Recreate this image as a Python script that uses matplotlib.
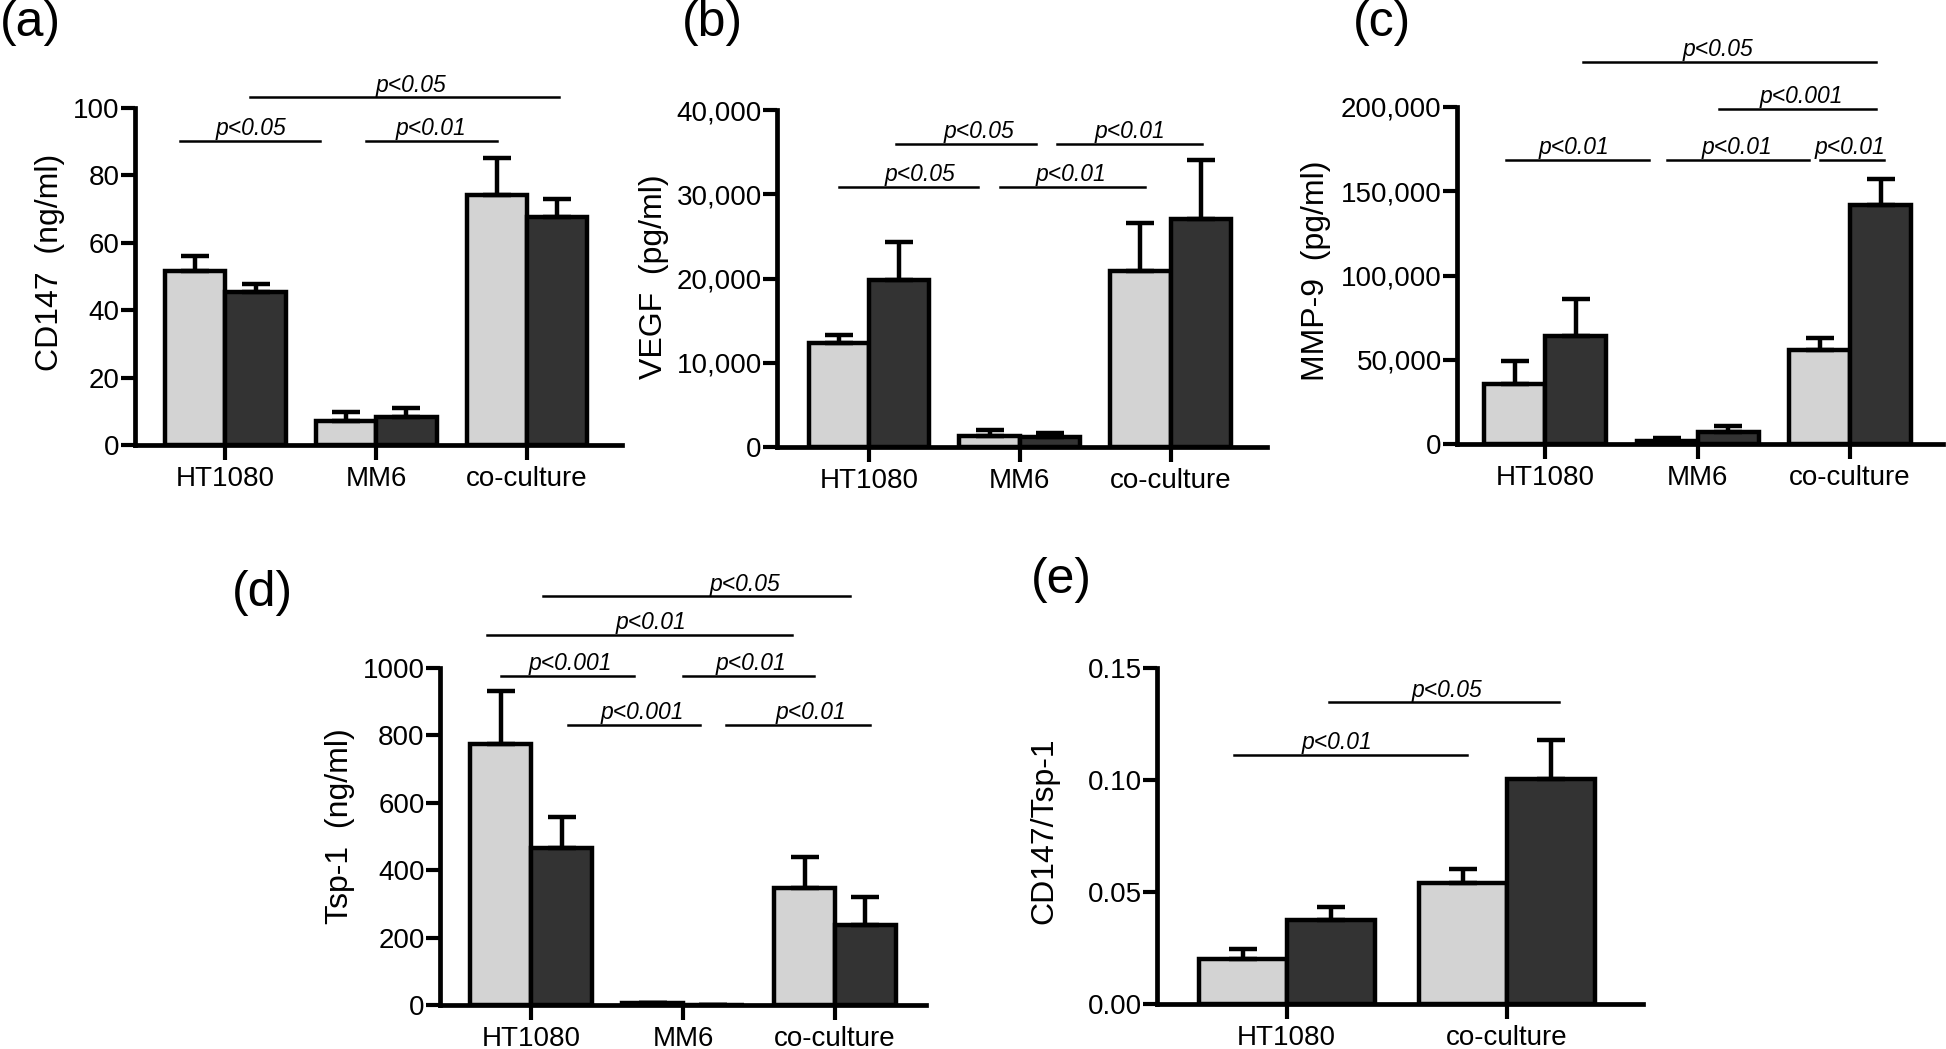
import matplotlib
matplotlib.use('Agg')
import matplotlib.pyplot as plt
from matplotlib.ticker import FuncFormatter
import numpy as np

plt.rcParams['font.family'] = ['Liberation Sans', 'DejaVu Sans']

# (a) CD147
a_groups = ['HT1080', 'MM6', 'co-culture']
a_light = [51.5, 7.2, 74.1]
a_light_err = [4.6, 2.5, 11.0]
a_dark = [45.3, 8.4, 67.8]
a_dark_err = [2.4, 2.5, 5.2]
a_yticks = [0, 20, 40, 60, 80, 100]
# (x0, x1, y, text x, label)
a_sig = [(-0.30, 0.63, 90.3, 0.17, 'p<0.05'),
         (0.93, 1.80, 90.3, 1.36, 'p<0.01'),
         (0.165, 2.21, 103.2, 1.23, 'p<0.05')]

# (b) VEGF
b_groups = ['HT1080', 'MM6', 'co-culture']
b_light = [12300, 1270, 20900]
b_light_err = [1050, 710, 5700]
b_dark = [19800, 1190, 27100]
b_dark_err = [4500, 470, 7000]
b_yticks = [0, 10000, 20000, 30000, 40000]
b_sig = [(-0.20, 0.72, 30900, 0.34, 'p<0.05'),
         (0.87, 1.83, 30900, 1.34, 'p<0.01'),
         (0.18, 1.11, 35960, 0.73, 'p<0.05'),
         (1.25, 2.21, 35960, 1.73, 'p<0.01')]

# (c) MMP-9
c_groups = ['HT1080', 'MM6', 'co-culture']
c_light = [35800, 1600, 56000]
c_light_err = [13700, 1800, 6700]
c_dark = [64300, 7300, 142000]
c_dark_err = [21900, 3600, 15500]
c_yticks = [0, 50000, 100000, 150000, 200000]
c_sig = [(-0.26, 0.68, 168700, 0.19, 'p<0.01'),
         (0.80, 1.73, 168700, 1.26, 'p<0.01'),
         (1.80, 2.22, 168700, 2.00, 'p<0.01'),
         (1.14, 2.17, 199000, 1.68, 'p<0.001'),
         (0.25, 2.17, 227000, 1.13, 'p<0.05')]

# (d) Tsp-1
d_groups = ['HT1080', 'MM6', 'co-culture']
d_light = [775, 5, 347]
d_light_err = [156, 2, 92]
d_dark = [465, 0, 238]
d_dark_err = [94, 0, 81]
d_yticks = [0, 200, 400, 600, 800, 1000]
d_sig = [(-0.20, 0.68, 977, 0.26, 'p<0.001'),
         (1.00, 1.86, 977, 1.45, 'p<0.01'),
         (0.24, 1.11, 832, 0.73, 'p<0.001'),
         (1.28, 2.23, 832, 1.84, 'p<0.01'),
         (-0.29, 1.72, 1099, 0.79, 'p<0.01'),
         (0.08, 2.10, 1213, 1.41, 'p<0.05')]

# (e) CD147/Tsp-1
e_groups = ['HT1080', 'co-culture']
e_light = [0.0201, 0.054]
e_light_err = [0.0045, 0.0063]
e_dark = [0.0376, 0.1004]
e_dark_err = [0.0056, 0.0176]
e_yticks = [0, 0.05, 0.10, 0.15]
e_sig = [(-0.24, 0.82, 0.1113, 0.23, 'p<0.01'),
         (0.19, 1.24, 0.1347, 0.73, 'p<0.05')]

LIGHT = '#d3d3d3'
DARK = '#333333'
LW = 3.2

W, H = 1946, 1049
fig = plt.figure(figsize=(W / 100, H / 100), dpi=100)


def px_axes(left, right, top, bottom):
    return fig.add_axes([left / W, 1 - bottom / H, (right - left) / W, (bottom - top) / H])


def draw_panel(ax, groups, light, light_err, dark, dark_err, yticks, fmt, xlim, sig):
    x = np.arange(len(groups))
    n = len(groups)
    ax.bar(x - 0.2, light, 0.4, color=LIGHT, edgecolor='black', linewidth=LW, zorder=2)
    ax.bar(x + 0.2, dark, 0.4, color=DARK, edgecolor='black', linewidth=LW, zorder=2)
    ax.errorbar(x - 0.2, light, yerr=[np.zeros(n), light_err], fmt='none', ecolor='black',
                elinewidth=LW, capsize=10, capthick=LW, zorder=3)
    ax.errorbar(x + 0.2, dark, yerr=[np.zeros(n), dark_err], fmt='none', ecolor='black',
                elinewidth=LW, capsize=10, capthick=LW, zorder=3)
    ax.set_xlim(*xlim)
    ax.set_ylim(yticks[0], yticks[-1])
    ax.set_yticks(yticks)
    ax.yaxis.set_major_formatter(FuncFormatter(lambda v, p: fmt.format(v)))
    ax.set_xticks(x)
    ax.set_xticklabels(groups)
    for s in ['top', 'right']:
        ax.spines[s].set_visible(False)
    for s in ['left', 'bottom']:
        ax.spines[s].set_linewidth(3.4)
    ax.tick_params(axis='y', direction='out', length=10, width=3, labelsize=20, pad=1)
    ax.tick_params(axis='x', direction='out', length=11, width=3, labelsize=20, pad=4)
    for x0, x1, y, tx, label in sig:
        ax.plot([x0, x1], [y, y], color='black', lw=1.8, clip_on=False)
        ax.annotate(label, (tx, y), xytext=(0, 4), textcoords='offset points',
                    ha='center', va='baseline', fontsize=16.5, style='italic',
                    annotation_clip=False)


ax_a = px_axes(135, 622, 108, 445)
draw_panel(ax_a, a_groups, a_light, a_light_err, a_dark, a_dark_err, a_yticks, '{:.0f}', (-0.6, 2.63), a_sig)
ax_b = px_axes(777, 1267, 110, 447)
draw_panel(ax_b, b_groups, b_light, b_light_err, b_dark, b_dark_err, b_yticks, '{:,.0f}', (-0.61, 2.64), b_sig)
ax_c = px_axes(1457, 1943, 107, 444)
draw_panel(ax_c, c_groups, c_light, c_light_err, c_dark, c_dark_err, c_yticks, '{:,.0f}', (-0.58, 2.61), c_sig)
ax_d = px_axes(440, 926, 668, 1005)
draw_panel(ax_d, d_groups, d_light, d_light_err, d_dark, d_dark_err, d_yticks, '{:.0f}', (-0.6, 2.6), d_sig)
ax_e = px_axes(1157, 1643, 668, 1004)
draw_panel(ax_e, e_groups, e_light, e_light_err, e_dark, e_dark_err, e_yticks, '{:.2f}', (-0.59, 1.62), e_sig)

# y axis labels
for lx, ly, txt in [(50, 262, 'CD147  (ng/ml)'), (654, 277, 'VEGF  (pg/ml)'),
                    (1316, 271, 'MMP-9  (pg/ml)'), (340, 826, 'Tsp-1  (ng/ml)'),
                    (1044, 831, 'CD147/Tsp-1')]:
    fig.text(lx / W, 1 - ly / H, txt, rotation=90, ha='center', va='center', fontsize=23)

# panel letters
for lx, ly, txt in [(0, 0, '(a)'), (682, 0, '(b)'), (1353, 0, '(c)'),
                    (232, 570, '(d)'), (1031, 557, '(e)')]:
    fig.text(lx / W, 1 - ly / H, txt, ha='left', va='top', fontsize=36)

fig.savefig('out.png', dpi=100)
